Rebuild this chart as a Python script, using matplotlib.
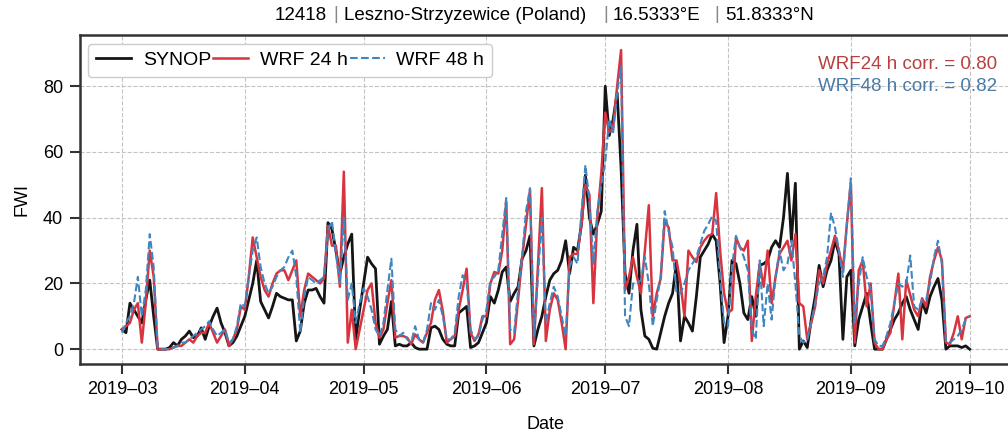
import numpy as np
import pandas as pd
import matplotlib
matplotlib.use("Agg")
import matplotlib.pyplot as plt
import matplotlib.dates as mdates

# daily FWI, 2019-03-01 .. 2019-10-01
synop = [6, 5, 14, 12, 10, 8, 15, 21, 10, 0,
         0, 0, 0.5, 2, 1, 3, 4, 5.5, 3.5, 4,
         6.5, 3, 7, 10, 12.5, 8, 5, 1, 2, 4,
         7, 10, 15, 20, 27, 14.5, 12, 9.5, 13, 17,
         16, 15.5, 15, 15, 2.5, 5.5, 14, 18, 18, 18.5,
         16, 14, 38.5, 36.5, 30, 23, 28, 32, 35, 3,
         12, 20, 28, 26, 24.5, 1.5, 4, 6, 14.5, 1,
         1.5, 1, 1, 2, 0.5, 0, 0, 0, 6.5, 7,
         6, 3, 1.5, 1, 1, 11, 12, 13, 0.5, 1,
         2, 5, 8, 16, 14, 18, 23.5, 25, 14.5, 17,
         19, 27.5, 30, 34.5, 1, 6, 10, 16, 21, 23,
         24, 27, 33, 23, 31, 30, 38, 53, 40, 35,
         38, 42, 80, 65, 70, 78, 55, 23, 17, 30,
         38, 12, 4, 3, 0.3, 0, 5, 10, 14, 17,
         26.5, 2.5, 10, 8, 5.5, 16, 28, 30, 32, 35,
         33, 20, 2, 10, 27, 26, 20, 11, 9, 16,
         10, 25.5, 26, 27, 31, 33, 31, 40, 53.5, 33,
         50.5, 0, 2.5, 0.5, 9, 16, 25.5, 19, 24, 27,
         33, 29, 3, 22, 24, 1, 9, 13, 17, 8,
         0, 0, 0, 3, 6, 9, 11, 14, 16, 12,
         9, 6, 14.5, 11, 16, 19, 21.5, 15, 0, 1,
         1, 1, 0.5, 1, 0]

wrf24 = [6, 7, 8, 12, 14, 2, 14, 30, 22, 0,
         0, 0, 0, 0.5, 1, 1, 2, 3, 2, 4,
         5, 5, 8, 5, 2, 4, 6, 1, 3, 6,
         13, 12, 22, 34, 28, 22, 18, 16, 20, 23,
         24, 24, 21, 24, 27, 10, 18, 23, 22, 21,
         20, 21.5, 37.5, 31.5, 31.5, 19, 54, 2, 12, 0,
         6, 12, 18, 20, 8, 3.5, 6, 14, 21, 3.5,
         4, 4, 3.5, 1.5, 4.5, 3, 2, 5, 8, 15,
         18, 11.5, 2, 3, 4, 12, 18, 24.5, 5, 2.5,
         4.5, 10, 10, 20, 23.5, 23, 30, 45, 1.5, 3,
         15, 27.5, 38, 48.5, 1.5, 25, 49, 2.5, 12, 17,
         15, 8, 0, 28, 29, 29, 38, 50, 47, 14,
         40, 53.5, 72, 66, 67.5, 80, 91, 18, 22, 28,
         22, 17, 30, 43.8, 10, 17, 21.5, 39, 37, 27,
         27, 20, 10, 30, 28, 26.5, 31, 33, 34.5, 35,
         47.5, 30, 17, 11, 12, 34, 31, 30, 33, 2.5,
         16, 26, 19, 30, 14, 22, 29, 31, 33, 27,
         35, 14, 13, 3, 8, 13, 24, 20, 26, 30,
         34.5, 30, 24, 38, 50.5, 2, 24, 27, 13, 20,
         2, 0, 0, 3, 5, 14, 23, 3, 21, 16.5,
         12, 10, 15.5, 13, 22, 27, 31, 27, 2, 1.5,
         5, 10, 3, 9.5, 10]

wrf48 = [5, 8, 10, 14, 22, 10, 18, 35, 25, 0.5,
         0, 0, 0, 0.5, 1, 2, 2, 3, 4, 5,
         6, 7, 8.5, 6, 4, 5, 6, 2, 3, 7,
         14, 13, 22, 30, 34, 25, 20, 17, 19, 22,
         24, 25, 28, 30, 22, 5, 16, 22, 21, 20,
         21, 22, 36, 39, 29, 20, 40, 15, 20, 8,
         14, 18.5, 16, 12, 6, 4, 8, 18, 27.5, 6,
         4, 5, 3, 2, 7, 3, 2, 6, 14, 12,
         15, 10, 3, 3, 5, 16, 22.5, 20, 6, 3,
         4, 9, 12, 21, 22, 24, 35, 46, 6, 5,
         18, 28, 42, 49, 4, 22, 40, 8, 14, 19,
         16, 10, 4, 25, 28, 26, 42, 56, 45, 26,
         42, 50, 57, 70, 66, 78, 86, 10, 7, 20,
         20, 21, 28, 20, 7, 15, 22, 42, 36, 31,
         17, 17, 20, 24, 26, 28, 32, 36, 38, 40.5,
         39, 22, 8, 7, 25, 34.5, 31, 28, 24, 6,
         3, 27, 7, 20, 9, 22, 30, 24, 26, 33,
         20, 4, 2, 3, 8, 14, 20, 22, 28, 41.5,
         37, 30, 22, 38, 52, 8, 20, 28, 22, 18,
         3, 1, 1, 4, 8, 14, 20, 19, 20, 28.5,
         13, 12, 15, 15, 20, 28, 33, 26, 2, 2,
         3, 4, 6, 9, 10]

corr24 = 0.80
corr48 = 0.82
# title pieces: station id, name, lon, lat
title_parts = ["12418", "Leszno-Strzyzewice (Poland)", "16.5333°E", "51.8333°N"]


def main():
    plt.rcParams['font.family'] = ['Liberation Sans', 'DejaVu Sans']
    dates = pd.date_range("2019-03-01", periods=len(synop), freq="D")

    fig = plt.figure(figsize=(10.08, 4.34), dpi=100)
    ax = fig.add_axes([0.079, 0.161, 0.925, 0.758])

    ax.plot(dates, synop, color='#151515', lw=2.0, label='SYNOP')
    ax.plot(dates, wrf24, color='#d8343f', lw=1.8, label='WRF 24 h')
    ax.plot(dates, wrf48, color='#3f86c0', lw=1.5, ls='--', label='WRF 48 h')

    ax.xaxis.set_major_locator(mdates.MonthLocator())
    ax.xaxis.set_major_formatter(mdates.DateFormatter('%Y–%m'))
    ax.set_yticks([0, 20, 40, 60, 80])
    ax.grid(True, ls='--', color='#c4c4c4', lw=0.8)
    ax.set_axisbelow(True)
    for s in ax.spines.values():
        s.set_color('#333333')
        s.set_linewidth(1.8)
    ax.tick_params(direction='out', length=7, width=1.5, color='#333333',
                   labelsize=13, pad=5)

    ax.set_xlabel('Date', fontsize=13, labelpad=13)
    ax.set_ylabel('FWI', fontsize=13, labelpad=9)

    ax.legend(loc='upper left', ncol=3, fontsize=14, handlelength=1.8,
              columnspacing=0.1, handletextpad=0.6, borderaxespad=0.45,
              frameon=True, fancybox=True, edgecolor='#cccccc', framealpha=1)

    ax.text(0.984, 0.912, f'WRF24 h corr. = {corr24:.2f}', transform=ax.transAxes,
            ha='right', va='center', fontsize=13.5, color='#b8403f')
    ax.text(0.984, 0.845, f'WRF48 h corr. = {corr48:.2f}', transform=ax.transAxes,
            ha='right', va='center', fontsize=13.5, color='#4a7aa6')

    # title with thin grey separators
    xs = [275, 344, 613, 725]
    bars = [336, 606, 717]
    for x, s in zip(xs, title_parts):
        fig.text(x / 1008, 0.965, s, ha='left', va='center', fontsize=13.5)
    for x in bars:
        fig.text(x / 1008, 0.967, '|', ha='center', va='center', fontsize=13.5,
                 color='#888888')

    fig.savefig('out.png', dpi=100)


if __name__ == "__main__":
    main()
